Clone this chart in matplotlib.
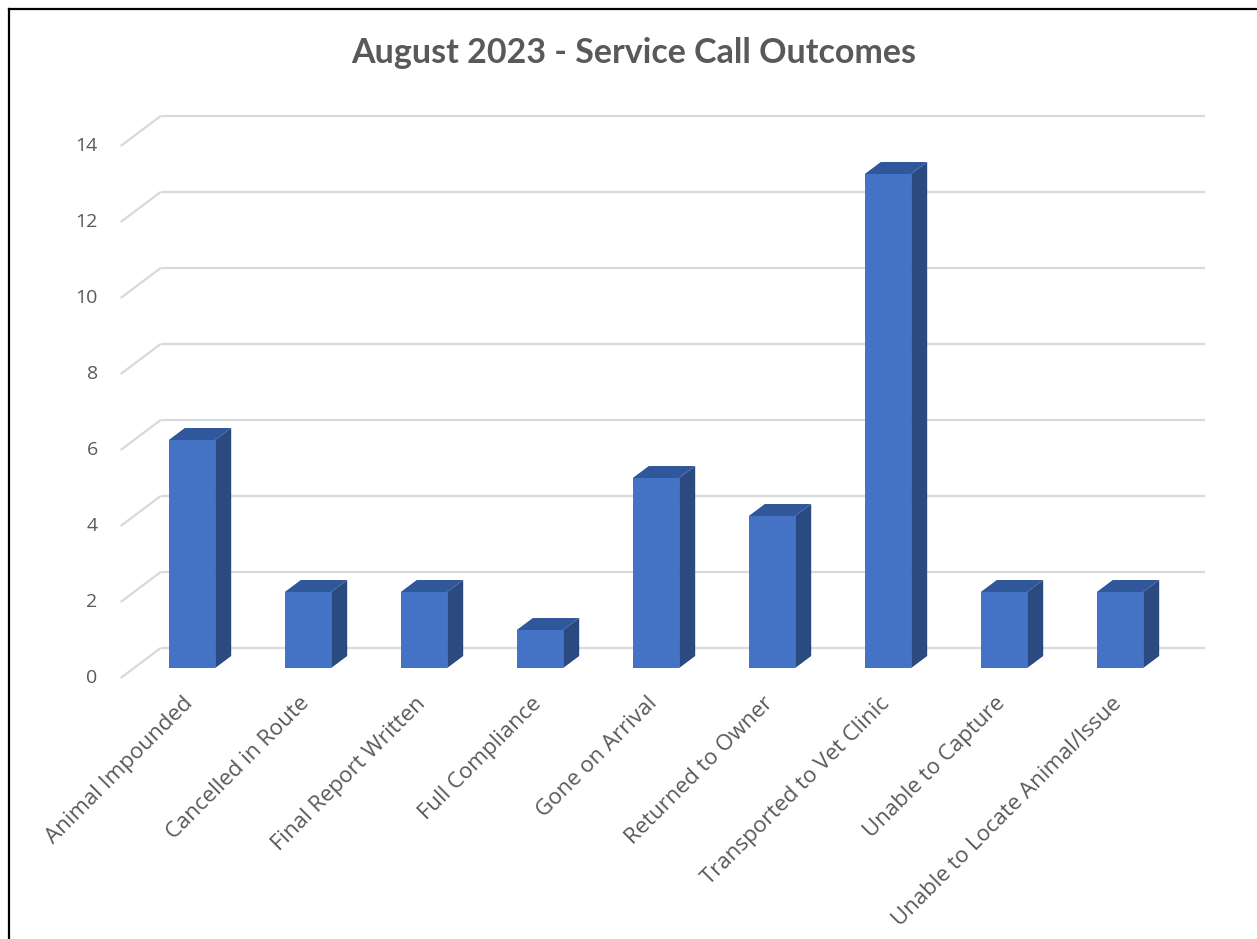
import matplotlib
matplotlib.use("Agg")
import matplotlib.pyplot as plt
from matplotlib.patches import Polygon
from matplotlib.lines import Line2D

categories = ["Animal Impounded", "Cancelled in Route", "Final Report Written",
              "Full Compliance", "Gone on Arrival", "Returned to Owner",
              "Transported to Vet Clinic", "Unable to Capture",
              "Unable to Locate Animal/Issue"]
values = [6, 2, 2, 1, 5, 4, 13, 2, 2]
yticks = [0, 2, 4, 6, 8, 10, 12, 14]
title = "August 2023 - Service Call Outcomes"

FONT = ["Open Sans", "DejaVu Sans"]
TFONT = ["Lato", "DejaVu Sans"]
TXT = "#595959"
FRONT = "#4472C4"
TOP = "#31579B"
SIDE = "#2A4A80"
GRID = "#D9D9D9"

W, H = 1257, 939
fig = plt.figure(figsize=(W / 100, H / 100), dpi=100)
fig.patch.set_facecolor("white")
ax = fig.add_axes([76 / W, 233 / H, 1160 / W, 608 / H])
ax.set_xlim(-1, 9)
ax.set_ylim(-1, 15)
ax.axis("off")

# pixel -> data scale
p0 = ax.transData.transform((0, 0))
p1 = ax.transData.transform((1, 1))
sx, sy = p1[0] - p0[0], p1[1] - p0[1]
Dx, Dy = 40 / sx, 30 / sy          # full floor depth
d0, d1 = 1 / 3, 0.733               # bar front / back depth
bx, by = (d1 - d0) * Dx, (d1 - d0) * Dy
fx, fy = -d0 * Dx, -d0 * Dy         # front edge shift
kx, ky = (1 - d0) * Dx, (1 - d0) * Dy  # back wall shift

x0, x1 = -0.5, len(categories) - 0.5

# gridlines
for v in yticks:
    ax.plot([x0 + kx, x1 + kx], [v + ky, v + ky], color=GRID, lw=1.6,
            solid_capstyle="butt", zorder=1)
    ax.plot([x0 + fx, x0 + kx], [v + fy, v + ky], color=GRID, lw=1.6,
            solid_capstyle="butt", zorder=1)
    ax.text(x0 + fx - 23 / sx, v + fy, str(v), ha="right", va="center",
            fontsize=14, color=TXT, family=FONT)

# bars
w = 0.4
xs = list(range(len(categories)))
ax.bar(xs, values, width=w, color=FRONT, zorder=3, linewidth=0)
for x, v in zip(xs, values):
    xl, xr = x - w / 2, x + w / 2
    ax.add_patch(Polygon([(xr, 0), (xr + bx, by), (xr + bx, v + by), (xr, v)],
                         closed=True, facecolor=SIDE, edgecolor="none", zorder=2))
    ax.add_patch(Polygon([(xl, v), (xr, v), (xr + bx, v + by), (xl + bx, v + by)],
                         closed=True, facecolor=TOP, edgecolor="none", zorder=2))

# category labels
for x, lab in zip(xs, categories):
    ax.text(x + fx + 4 / sx, fy - 15 / sy, lab, rotation=45, ha="right", va="top",
            rotation_mode="anchor", fontsize=16, color=TXT, family=FONT)

fig.text(634 / W, 1 - 53 / H, title, ha="center", va="center", fontsize=24.5,
         fontweight="bold", color=TXT, family=TFONT)

# chart border (top and left visible)
fig.add_artist(Line2D([8.5 / W, 1], [1 - 8.5 / H, 1 - 8.5 / H], color="black",
                      lw=1.6, transform=fig.transFigure))
fig.add_artist(Line2D([8.5 / W, 8.5 / W], [0, 1 - 8.5 / H], color="black",
                      lw=1.6, transform=fig.transFigure))

fig.savefig("out.png", dpi=100, facecolor="white")
